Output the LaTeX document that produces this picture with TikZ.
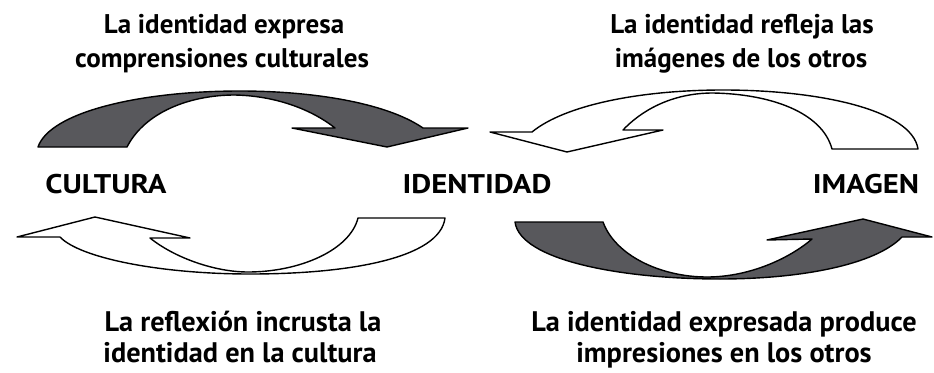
\documentclass[tikz,border=0pt]{standalone}
\usepackage{fontspec}
\setmainfont{PT Sans}
\definecolor{darkfill}{RGB}{88,88,92}
\tikzset{
  darkarrow/.style={fill=darkfill, draw=black, line width=1.4pt, line join=round},
  whitearrow/.style={fill=white, draw=black, line width=1.4pt, line join=round},
  txt/.style={font=\bfseries\fontsize{27}{32}\selectfont, inner sep=0pt, anchor=base},
  txtb/.style={font=\bfseries\fontsize{28.3}{32}\selectfont, inner sep=0pt, anchor=base}
}
\newcommand{\widecaps}[1]{\scalebox{1.14}[1]{#1}}
\begin{document}
\begin{tikzpicture}[x=1pt,y=-1pt]
\useasboundingbox (0,0) rectangle (934,372);
% top-left dark arrow
\filldraw[darkarrow] (38,147) -- (127,147)
 .. controls (145,112) and (190,95) .. (235,95)
 .. controls (280,96) and (315,112) .. (335,128)
 -- (292,128) -- (387,147) -- (468,128) -- (423,128)
 .. controls (385,102) and (310,91) .. (240,91)
 .. controls (140,91) and (50,112) .. (38,147) -- cycle;
% top-right white arrow
\filldraw[whitearrow] (918,149) -- (832,149)
 .. controls (822,112) and (770,94) .. (713,93)
 .. controls (670,93) and (640,112) .. (623,130)
 -- (663,130) -- (567,152) -- (490,132) -- (532,132)
 .. controls (565,105) and (640,90) .. (723,90)
 .. controls (820,90) and (912,110) .. (918,149) -- cycle;
% bottom-left white arrow
\filldraw[whitearrow] (358,218) -- (445,218)
 .. controls (440,258) and (350,274) .. (250,274)
 .. controls (160,274) and (80,258) .. (60,237)
 -- (17,237) -- (95,217) -- (190,238) -- (150,238)
 .. controls (175,258) and (215,272) .. (248,272)
 .. controls (300,272) and (350,250) .. (358,218) -- cycle;
% bottom-right dark arrow
\filldraw[darkarrow] (515,222) -- (603,222)
 .. controls (615,255) and (660,277) .. (707,277)
 .. controls (750,277) and (790,258) .. (812,239)
 -- (767,240) -- (863,219) -- (932,237) -- (902,237)
 .. controls (875,265) and (800,279) .. (720,279)
 .. controls (620,279) and (520,260) .. (515,222) -- cycle;
% labels
\node[txt] (cultura) at (106,193) {\widecaps{CULTURA}};
\node[txt] (identidad) at (477,193) {\widecaps{IDENTIDAD}};
\node[txt] (imagen) at (866,193) {\widecaps{IMAGEN}};
\node[txt] (tl1) at (224,33) {La identidad expresa};
\node[txt] (tl2) at (222,67) {comprensiones culturales};
\node[txt] (tr1) at (742,33) {La identidad refleja las};
\node[txt] (tr2) at (741,67) {imágenes de los otros};
\node[txtb] (bl1) at (243,331) {La reflexión incrusta la};
\node[txtb] (bl2) at (240,362) {identidad en la cultura};
\node[txtb] (br1) at (724,331) {La identidad expresada produce};
\node[txtb] (br2) at (724,362) {impresiones en los otros};
\end{tikzpicture}
\end{document}
